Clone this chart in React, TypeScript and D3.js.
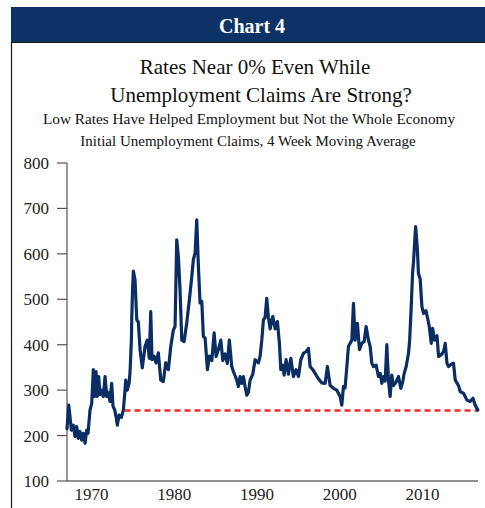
import React from "react";
import * as d3 from "d3";

const years = [
  1967.05, 1967.26, 1967.41, 1967.57, 1967.81, 1968.02, 1968.22, 1968.42, 1968.62, 1968.83,
  1969.02, 1969.23, 1969.43, 1969.59, 1969.83, 1970.04, 1970.23, 1970.4, 1970.56, 1970.71,
  1970.88, 1971.04, 1971.2, 1971.44, 1971.65, 1971.85, 1972.04, 1972.25, 1972.45, 1972.61,
  1972.82, 1973.01, 1973.13, 1973.34, 1973.62, 1973.86, 1974.03, 1974.15, 1974.34, 1974.55,
  1974.67, 1974.83, 1974.88, 1974.97, 1975.07, 1975.27, 1975.48, 1975.67, 1975.88, 1976.15,
  1976.48, 1976.76, 1977.0, 1977.17, 1977.33, 1977.57, 1977.81, 1978.09, 1978.38, 1978.69,
  1978.98, 1979.3, 1979.59, 1979.9, 1980.11, 1980.31, 1980.51, 1980.71, 1980.92, 1981.2,
  1981.52, 1981.84, 1982.13, 1982.32, 1982.53, 1982.73, 1982.93, 1983.13, 1983.34, 1983.53,
  1983.74, 1984.02, 1984.26, 1984.55, 1984.83, 1985.07, 1985.35, 1985.64, 1985.88, 1986.15,
  1986.43, 1986.67, 1986.96, 1987.16, 1987.57, 1987.76, 1987.97, 1988.17, 1988.37, 1988.57,
  1988.78, 1988.97, 1989.18, 1989.5, 1989.78, 1990.18, 1990.39, 1990.59, 1990.79, 1990.99,
  1991.19, 1991.39, 1991.6, 1991.8, 1991.92, 1992.2, 1992.48, 1992.72, 1992.89, 1993.13,
  1993.29, 1993.53, 1993.81, 1994.1, 1994.41, 1994.74, 1995.02, 1995.31, 1995.62, 1995.95,
  1996.23, 1996.43, 1996.76, 1997.03, 1997.43, 1997.84, 1998.25, 1998.52, 1998.85, 1999.25,
  1999.66, 2000.06, 2000.26, 2000.46, 2000.66, 2000.87, 2001.06, 2001.27, 2001.47, 2001.67,
  2001.87, 2002.15, 2002.39, 2002.68, 2002.96, 2003.2, 2003.48, 2003.69, 2003.89, 2004.09,
  2004.41, 2004.69, 2004.9, 2005.1, 2005.29, 2005.5, 2005.7, 2005.9, 2006.1, 2006.3,
  2006.5, 2006.83, 2007.11, 2007.4, 2007.64, 2007.8, 2008.04, 2008.32, 2008.46, 2008.64,
  2008.82, 2008.92, 2009.18, 2009.4, 2009.52, 2009.73, 2009.94, 2010.14, 2010.43, 2010.67,
  2010.83, 2011.07, 2011.23, 2011.47, 2011.76, 2011.96, 2012.28, 2012.56, 2012.76, 2012.97,
  2013.16, 2013.48, 2013.76, 2013.97, 2014.37, 2014.57, 2014.97, 2015.38, 2015.78, 2016.11,
  2016.38, 2016.71,
];

const claims = [
  215, 267, 242, 212, 223, 198, 220, 194, 209, 190,
  205, 183, 212, 205, 256, 271, 345, 286, 341, 286,
  330, 290, 300, 286, 330, 286, 295, 275, 315, 265,
  256, 238, 223, 245, 240, 256, 293, 322, 300, 315,
  340, 410, 460, 520, 562, 543, 455, 450, 389, 349,
  396, 410, 370, 473, 367, 375, 360, 382, 322, 319,
  360, 345, 396, 432, 440, 631, 594, 521, 410, 407,
  448, 499, 550, 587, 602, 675, 572, 492, 495, 418,
  415, 345, 375, 365, 426, 374, 390, 410, 365, 380,
  359, 410, 352, 341, 322, 308, 330, 315, 330, 308,
  289, 295, 322, 335, 367, 360, 375, 410, 455, 460,
  502, 460, 435, 455, 462, 435, 451, 403, 345, 355,
  333, 367, 335, 370, 330, 345, 330, 367, 381, 385,
  392, 352, 345, 337, 325, 316, 315, 352, 310, 304,
  300, 286, 267, 308, 305, 352, 396, 403, 410, 491,
  410, 447, 389, 403, 407, 440, 410, 396, 359, 352,
  355, 330, 337, 315, 330, 320, 400, 322, 286, 333,
  310, 318, 330, 304, 320, 337, 352, 381, 410, 480,
  560, 580, 660, 609, 557, 545, 484, 469, 475, 455,
  440, 403, 436, 410, 420, 374, 378, 385, 403, 359,
  352, 357, 359, 322, 310, 297, 293, 278, 275, 282,
  267, 256,
];

const yTicks = [100, 200, 300, 400, 500, 600, 700, 800];
const xTicks = [1970, 1980, 1990, 2000, 2010];
const refLevel = 255;
const refStart = 1974.0;

const titleLines = ["Rates Near 0% Even While", "Unemployment Claims Are Strong?"];
const subLines = [
  "Low Rates Have Helped Employment but Not the Whole Economy",
  "Initial Unemployment Claims, 4 Week Moving Average",
];

export default function App() {
  const W = 485;
  const H = 508;
  const x = d3.scaleLinear().domain([1967.05, 2016.72]).range([67, 478]);
  const y = d3.scaleLinear().domain([100, 800]).range([481, 163]);
  const pts = years.map((yr, i) => [yr, claims[i]] as [number, number]);
  const line = d3
    .line<[number, number]>()
    .x((d) => x(d[0]))
    .y((d) => y(d[1]));
  const serif = "'Liberation Serif', 'DejaVu Serif', serif";
  const navy = "#0d3366";
  const ts = { fontFamily: serif };

  return (
    <svg
      width={W}
      height={H}
      style={{ position: "absolute", left: 0, top: 0, background: "#fff", fontFamily: serif }}
    >
      {/* header band */}
      <rect x={11} y={7} width={W - 11} height={35} fill={navy} />
      <line x1={11} x2={W} y1={42.5} y2={42.5} stroke="#1a1a1a" strokeWidth={1} />
      <line x1={11.5} x2={11.5} y1={42} y2={H} stroke="#1a1a1a" strokeWidth={1.2} />
      <text x={252} y={33} textAnchor="middle" fill="#fff" fontWeight="bold" fontSize={20} style={ts}>
        Chart 4
      </text>

      {/* titles */}
      <text x={255} y={74} textAnchor="middle" fontSize={21} fill="#111" style={ts}>
        {titleLines[0]}
      </text>
      <text x={261} y={102} textAnchor="middle" fontSize={21} fill="#111" style={ts}>
        {titleLines[1]}
      </text>
      <text x={249} y={124} textAnchor="middle" fontSize={15.3} fill="#111" style={ts}>
        {subLines[0]}
      </text>
      <text x={248} y={146} textAnchor="middle" fontSize={15} fill="#111" style={ts}>
        {subLines[1]}
      </text>

      {/* y axis */}
      <line x1={67} x2={67} y1={y(800)} y2={y(100)} stroke="#555" strokeWidth={1.2} />
      {yTicks.map((t) => (
        <g key={t}>
          <line x1={57} x2={67} y1={y(t)} y2={y(t)} stroke="#555" strokeWidth={1.2} />
          <text x={49} y={y(t)} dy="0.35em" textAnchor="end" fontSize={17} fill="#222" style={ts}>
            {t}
          </text>
        </g>
      ))}

      {/* x axis */}
      <line x1={67} x2={478} y1={y(100)} y2={y(100)} stroke="#222" strokeWidth={1.2} />
      {xTicks.map((t) => (
        <text key={t} x={x(t)} y={500} textAnchor="middle" fontSize={17} fill="#222" style={ts}>
          {t}
        </text>
      ))}

      {/* reference dashed line */}
      <line
        x1={x(refStart)}
        x2={x(years[years.length - 1])}
        y1={y(refLevel)}
        y2={y(refLevel)}
        stroke="#ee2b2b"
        strokeWidth={2.5}
        strokeDasharray="6 4"
      />

      {/* data line */}
      <path
        d={line(pts) || ""}
        fill="none"
        stroke="#0a2d63"
        strokeWidth={3.2}
        strokeLinejoin="round"
        strokeLinecap="round"
      />
    </svg>
  );
}
